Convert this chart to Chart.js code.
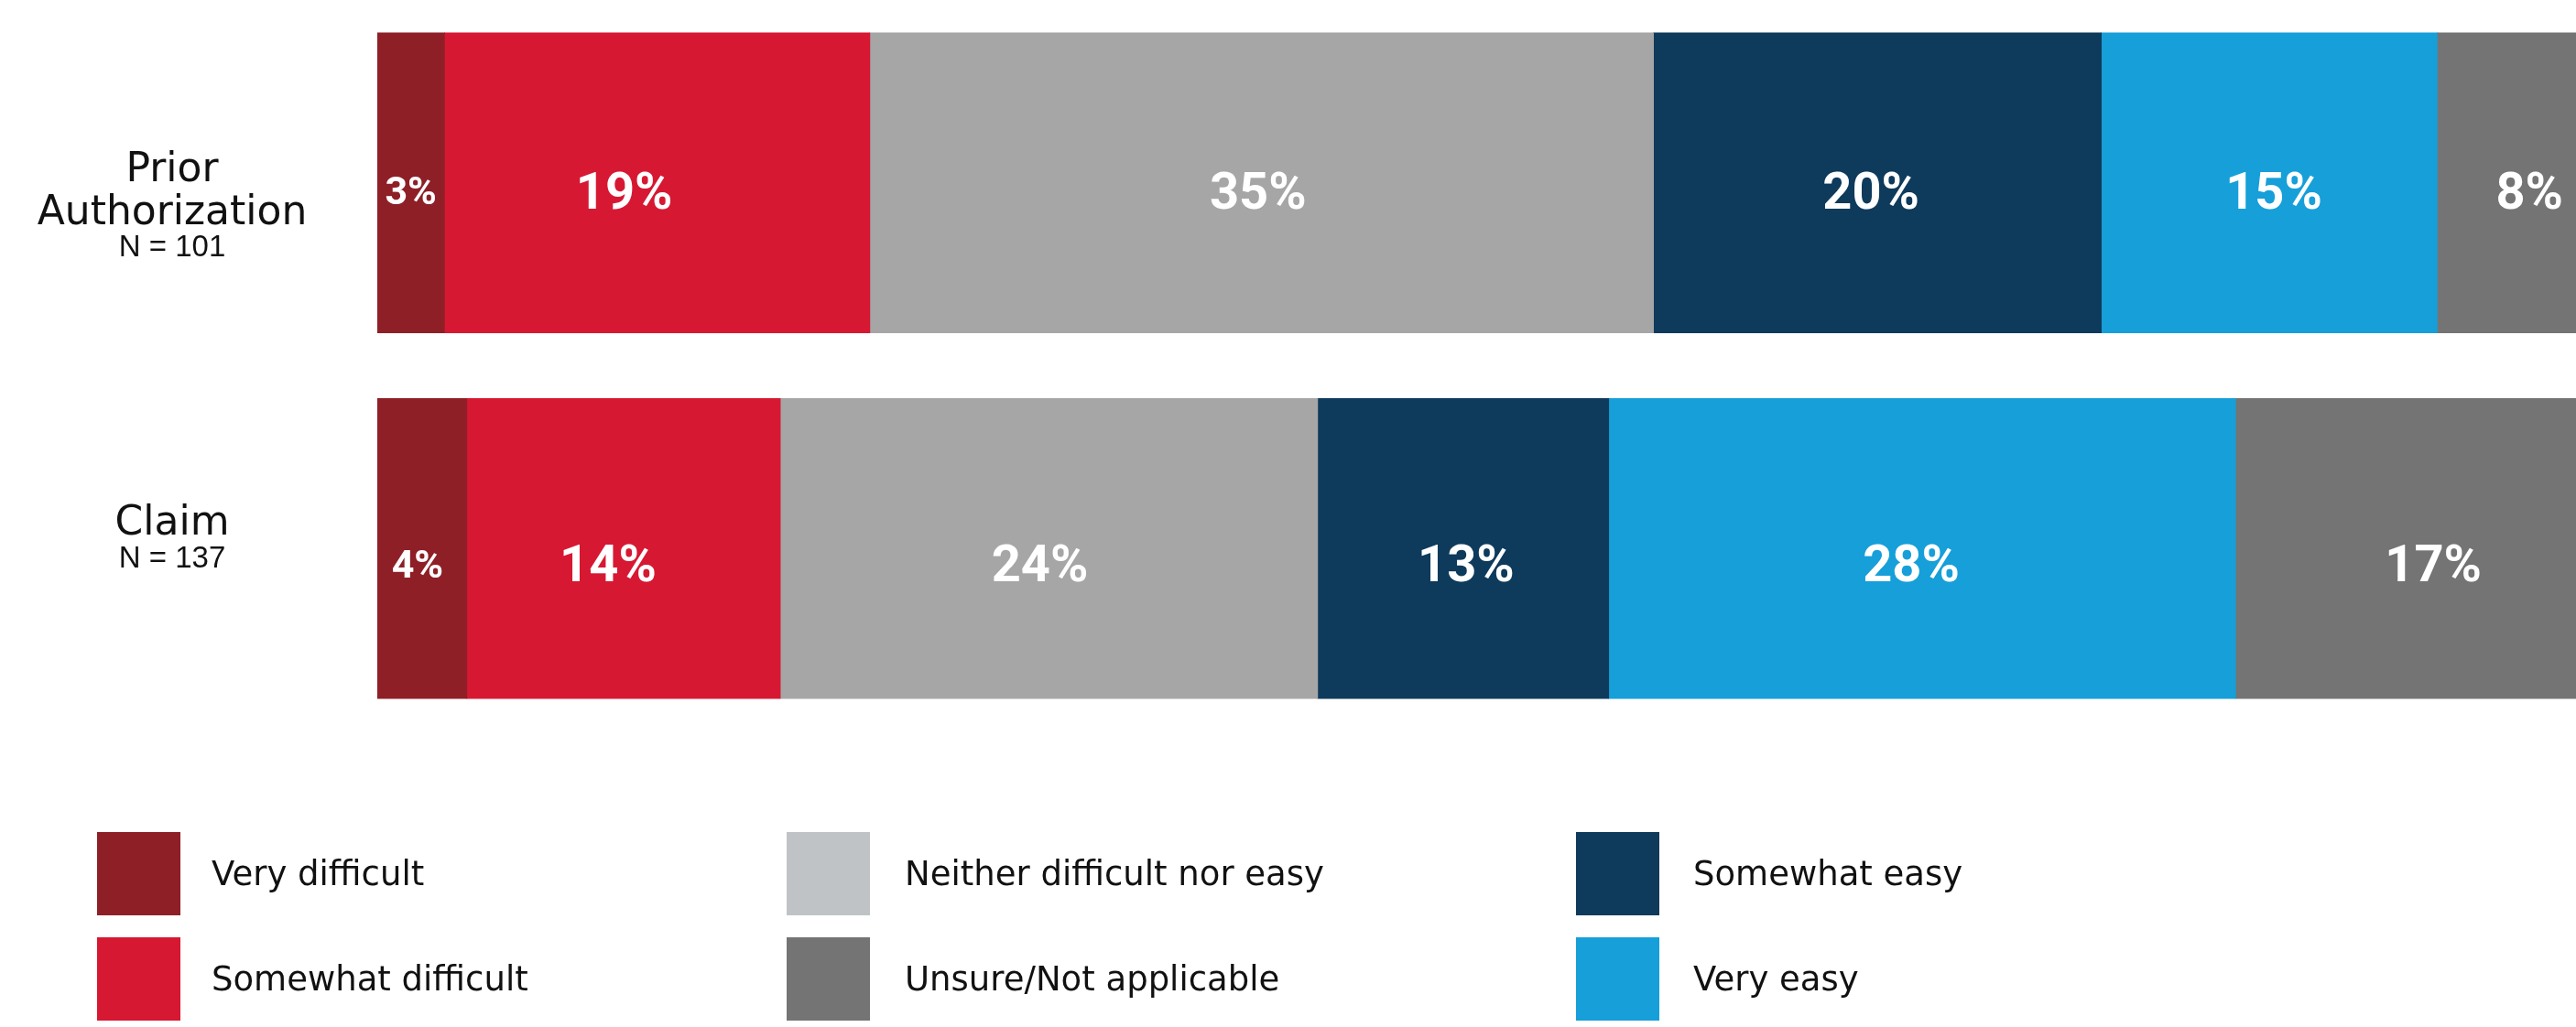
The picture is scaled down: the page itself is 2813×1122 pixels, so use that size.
<!DOCTYPE html>
<html>
<head>
<meta charset="utf-8">
<script src="https://cdn.jsdelivr.net/npm/chart.js@4.4.1/dist/chart.umd.min.js"></script>
<style>
  html, body { margin: 0; padding: 0; background: #ffffff; overflow: hidden; width: 2813px; height: 1122px; }
  canvas { display: block; }
</style>
</head>
<body>
<canvas id="chart" width="2857" height="1122"></canvas>
<script>
// ---- Data ----
const categories = [["Prior", "Authorization"], ["Claim"]];
const sampleSizes = ["N = 101", "N = 137"];
const seriesNames = ["Very difficult", "Somewhat difficult", "Neither difficult nor easy", "Somewhat easy", "Very easy", "Unsure/Not applicable"];
const veryDifficult     = [3, 4];
const somewhatDifficult = [19, 14];
const neitherEasy       = [35, 24];
const somewhatEasy      = [20, 13];
const veryEasy          = [15, 28];
const unsureNA          = [8, 17];
const seriesValues = [veryDifficult, somewhatDifficult, neitherEasy, somewhatEasy, veryEasy, unsureNA];

// ---- Styles ----
const barColors    = ["#8E1F27", "#D71832", "#A6A6A6", "#0E3A5C", "#169FD9", "#747474"];
const swatchColors = ["#8E1F27", "#D71832", "#BFC3C6", "#0E3A5C", "#169FD9", "#747474"];
const legendOrder  = [0, 1, 2, 5, 3, 4]; // column-major: 3 columns x 2 rows

const valueLabels = {
  id: 'valueLabels',
  afterDatasetsDraw(chart, args, opts) {
    const ctx = chart.ctx;
    ctx.save();
    ctx.fillStyle = '#ffffff';
    ctx.textAlign = 'center';
    ctx.textBaseline = 'alphabetic';
    chart.data.datasets.forEach((ds, di) => {
      const meta = chart.getDatasetMeta(di);
      meta.data.forEach((bar, i) => {
        const v = ds.data[i];
        const w = Math.abs(bar.x - bar.base);
        const nudge = (opts.nudgeX[di] || [])[i] || 0;
        const cx = (bar.x + bar.base) / 2 + nudge;
        const size = w < 120 ? opts.smallSize : opts.size;
        ctx.font = `bold ${size}px Roboto, "Liberation Sans", sans-serif`;
        const cap = size * 0.711;
        const cy = bar.y + opts.yOffsets[i];
        ctx.fillText(v + '%', cx, cy + cap / 2);
      });
    });
    ctx.restore();
  }
};

const categoryLabels = {
  id: 'categoryLabels',
  afterDraw(chart, args, opts) {
    const ctx = chart.ctx;
    const yScale = chart.scales.y;
    ctx.save();
    ctx.fillStyle = '#111111';
    ctx.textAlign = 'center';
    ctx.textBaseline = 'alphabetic';
    categories.forEach((lines, i) => {
      const yc = yScale.getPixelForValue(i);
      const base = yc - 15 + 13 * (lines.length - 1);
      ctx.font = `${opts.nameSize}px "DejaVu Sans", sans-serif`;
      lines.forEach((ln, k) => {
        ctx.fillText(ln, opts.x, base + k * 47);
      });
      const last = base + (lines.length - 1) * 47;
      ctx.font = `${opts.nSize}px "Liberation Sans", sans-serif`;
      ctx.fillText(sampleSizes[i], opts.x, last + (lines.length > 1 ? 35 : 36));
    });
    ctx.restore();
  }
};

const gridLegend = {
  id: 'gridLegend',
  afterDraw(chart, args, opts) {
    const ctx = chart.ctx;
    ctx.save();
    ctx.textAlign = 'left';
    ctx.textBaseline = 'alphabetic';
    ctx.font = `${opts.fontSize}px "DejaVu Sans", sans-serif`;
    legendOrder.forEach((si, k) => {
      const col = Math.floor(k / 2), row = k % 2;
      const x = opts.colX[col], y = opts.rowY[row];
      ctx.fillStyle = swatchColors[si];
      ctx.fillRect(x, y, opts.box, opts.box);
      ctx.fillStyle = '#111111';
      ctx.fillText(seriesNames[si], opts.textX[col], y + opts.box / 2 + 12);
    });
    ctx.restore();
  }
};

new Chart(document.getElementById('chart'), {
  type: 'bar',
  data: {
    labels: categories.map(c => c.join(' ')),
    datasets: seriesValues.map((vals, i) => ({
      label: seriesNames[i],
      data: vals,
      backgroundColor: barColors[i],
      borderWidth: 0,
      barThickness: 328
    }))
  },
  options: {
    indexAxis: 'y',
    responsive: false,
    animation: false,
    devicePixelRatio: 1,
    layout: { padding: { left: 412, right: 0, top: -1, bottom: 323 } },
    scales: {
      x: { stacked: true, min: 0, max: 100, display: false },
      y: { stacked: true, display: false }
    },
    plugins: {
      legend: { display: false },
      tooltip: { enabled: false },
      valueLabels: {
        size: 56, smallSize: 43, yOffsets: [8, 16],
        nudgeX: [[0, -5], [-36, -17], [-4, -10], [-7, 3], [5, -12], [3, 8]]
      },
      categoryLabels: { x: 188, nameSize: 44, nSize: 33 },
      gridLegend: { colX: [106, 859, 1721], textX: [231, 988, 1849], rowY: [909, 1024], box: 91, fontSize: 37 }
    }
  },
  plugins: [valueLabels, categoryLabels, gridLegend]
});
</script>
</body>
</html>
